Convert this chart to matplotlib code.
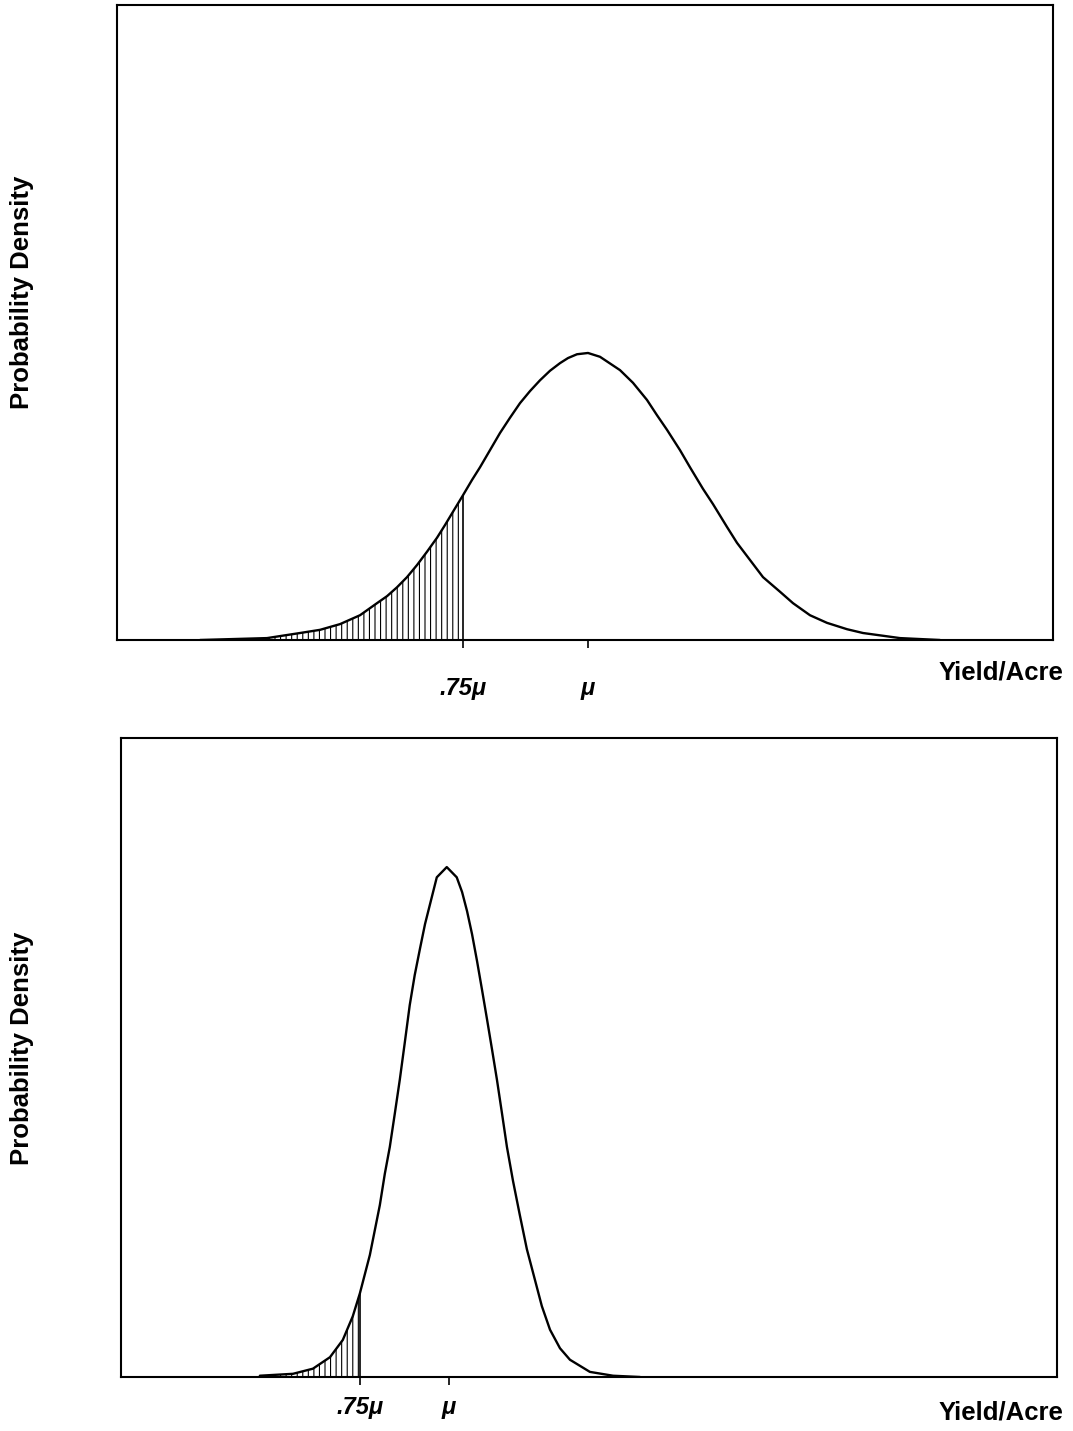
import matplotlib
matplotlib.use('Agg')
import numpy as np
import matplotlib.pyplot as plt

plt.rcParams['font.family'] = ['Liberation Sans', 'DejaVu Sans']
plt.rcParams['hatch.linewidth'] = 0.8

# x in units of the mean yield (mu = 1), y as a fraction of the panel height

# --- top panel: wide distribution ---
top_x = [0.224, 0.358, 0.424, 0.464, 0.504, 0.544, 0.578, 0.598, 0.618, 0.638,
         0.658, 0.678, 0.698, 0.714, 0.730, 0.750, 0.768, 0.784, 0.804, 0.824,
         0.844, 0.864, 0.884, 0.904, 0.924, 0.944, 0.960, 0.978, 1.000, 1.024,
         1.064, 1.090, 1.118, 1.138, 1.158, 1.184, 1.204, 1.230, 1.250, 1.278,
         1.298, 1.324, 1.350, 1.384, 1.410, 1.444, 1.478, 1.518, 1.550, 1.624,
         1.704]
top_y = [0.000, 0.003, 0.011, 0.016, 0.025, 0.039, 0.058, 0.069, 0.083, 0.099,
         0.118, 0.139, 0.161, 0.181, 0.202, 0.228, 0.252, 0.272, 0.299, 0.326,
         0.350, 0.373, 0.392, 0.409, 0.424, 0.436, 0.444, 0.450, 0.452, 0.446,
         0.425, 0.405, 0.378, 0.354, 0.331, 0.299, 0.272, 0.238, 0.214, 0.178,
         0.153, 0.126, 0.099, 0.076, 0.058, 0.039, 0.027, 0.017, 0.011, 0.003,
         0.000]

# --- bottom panel: narrow distribution ---
bot_x = [0.469, 0.562, 0.618, 0.666, 0.702, 0.730, 0.750, 0.778, 0.806, 0.820,
         0.834, 0.848, 0.862, 0.876, 0.890, 0.904, 0.919, 0.933, 0.947, 0.966,
         0.994, 1.022, 1.037, 1.051, 1.065, 1.079, 1.093, 1.107, 1.121, 1.135,
         1.149, 1.163, 1.180, 1.199, 1.219, 1.236, 1.261, 1.284, 1.312, 1.340,
         1.396, 1.461, 1.537]
bot_y = [0.002, 0.005, 0.013, 0.031, 0.058, 0.095, 0.131, 0.191, 0.269, 0.318,
         0.360, 0.412, 0.465, 0.523, 0.582, 0.629, 0.671, 0.709, 0.740, 0.782,
         0.798, 0.782, 0.759, 0.729, 0.693, 0.651, 0.606, 0.560, 0.513, 0.465,
         0.413, 0.360, 0.307, 0.254, 0.200, 0.164, 0.111, 0.074, 0.045, 0.027,
         0.008, 0.002, 0.000]

cutoff = 0.75
tick_pos = [0.75, 1.0]
tick_labels = ['.75\u03bc', '\u03bc']

W, H = 1073, 1431
fig = plt.figure(figsize=(W / 100, H / 100), dpi=100)


def panel(rect, xs, ys, xlim, label_pad):
    ax = fig.add_axes(rect)
    xs = np.asarray(xs)
    ys = np.asarray(ys)
    ax.plot(xs, ys, color='black', lw=1.7, solid_joinstyle='round',
            solid_capstyle='round')
    mask = xs <= cutoff
    ax.fill_between(xs[mask], 0, ys[mask], facecolor='none', edgecolor='black',
                    hatch='|||', linewidth=0)
    ax.vlines(cutoff, 0, ys[mask][-1], color='black', lw=1.2)
    ax.set_xlim(*xlim)
    ax.set_ylim(0, 1)
    ax.set_yticks([])
    ax.set_xticks(tick_pos)
    ax.set_xticklabels(tick_labels, fontsize=17, fontweight='bold', fontstyle='italic')
    ax.tick_params(axis='x', direction='out', length=6, width=1.2, pad=label_pad)
    for s in ax.spines.values():
        s.set_linewidth(1.5)
    return ax


panel([117 / W, 1 - 640 / H, 936 / W, 635 / H], top_x, top_y, (0.058, 1.930), 21)
panel([121 / W, 1 - 1377 / H, 936 / W, 639 / H], bot_x, bot_y, (0.079, 2.708), 8)

for yc in (292, 1048):
    fig.text(22 / W, 1 - yc / H, 'Probability Density', rotation=90,
             ha='center', va='center', fontsize=18.5, fontweight='bold')
for yc in (672, 1412):
    fig.text(1063 / W, 1 - yc / H, 'Yield/Acre', ha='right', va='center',
             fontsize=18.5, fontweight='bold')

fig.savefig('out.png', dpi=100)
